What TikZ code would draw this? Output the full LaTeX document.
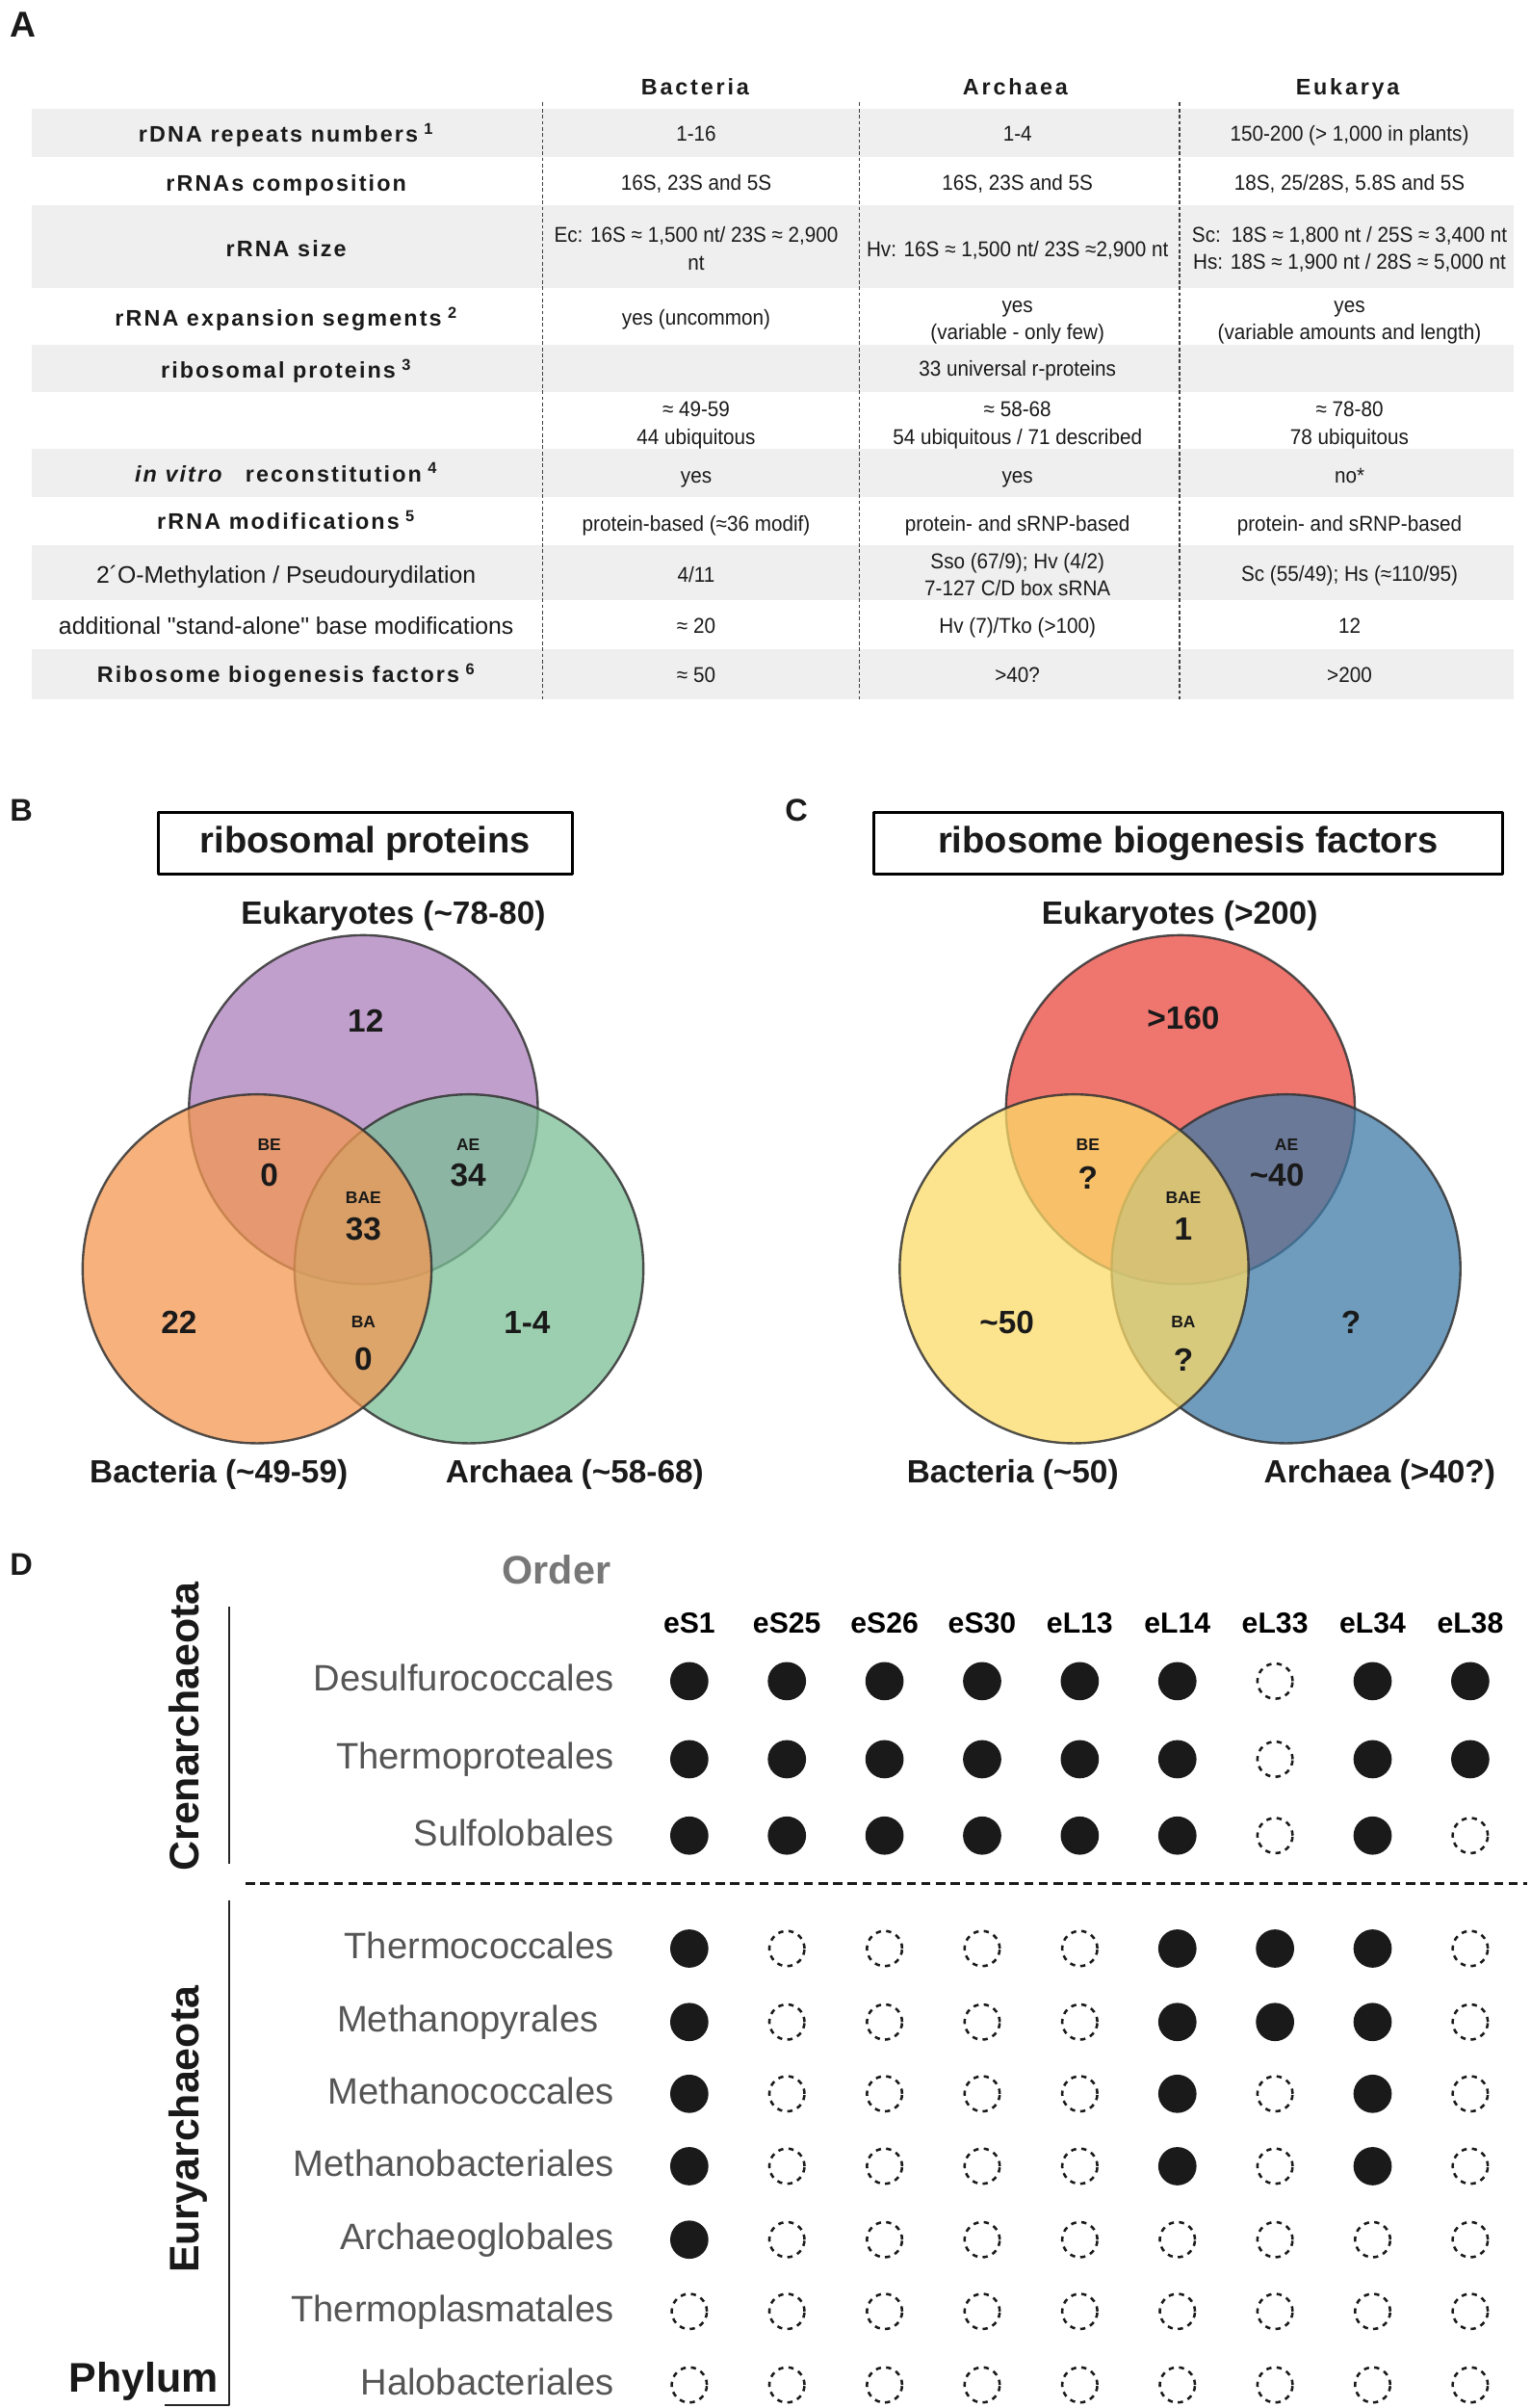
\documentclass[tikz,border=0pt]{standalone}
\usepackage{fontspec}
\setmainfont{Liberation Sans}
\newfontfamily\headfont[LetterSpace=12]{Liberation Sans}
\newfontfamily\labfont[LetterSpace=9]{Liberation Sans}
\newfontfamily\valfont[FakeStretch=0.93]{Liberation Sans}
\newcommand\supnum[1]{\hspace{4pt}\textsuperscript{#1}}
\usetikzlibrary{positioning}
\definecolor{rowgrey}{HTML}{EFEFEF}
\definecolor{ink}{HTML}{1A1A1A}
\definecolor{ordgrey}{HTML}{555555}
\definecolor{headgrey}{HTML}{777777}
\definecolor{rpE}{RGB}{171,128,187}
\definecolor{rpA}{RGB}{123,191,150}
\definecolor{rpB}{RGB}{243,152,82}
\definecolor{bfE}{RGB}{234,71,64}
\definecolor{bfA}{RGB}{63,123,167}
\definecolor{bfB}{RGB}{251,218,104}
\begin{document}
\begin{tikzpicture}[x=1pt,y=-1pt,line join=round,text=ink,
	panel/.style={font=\bfseries\fontsize{20.5}{24}\selectfont,anchor=base west,inner sep=0pt},
	colhead/.style={font=\headfont\bfseries\fontsize{14.7}{17}\selectfont,anchor=base,yshift=-5.3pt,inner sep=0pt},
	rowlab/.style={font=\labfont\bfseries\fontsize{14.7}{17}\selectfont,anchor=base,yshift=-5.3pt,inner sep=0pt},
	rowtxt/.style={font=\fontsize{15.6}{18}\selectfont,anchor=base,yshift=-5.6pt,inner sep=0pt},
	val/.style={font=\valfont\fontsize{14}{16}\selectfont,anchor=base,yshift=-5pt,inner sep=0pt},
	vsep/.style={black!75,line width=1pt,dash pattern=on 2.4pt off 1.6pt},
	venn/.style={draw=black!80,line width=1.5pt,fill opacity=.75,draw opacity=.85},
	titlebox/.style={draw=black,line width=1.8pt,font=\bfseries\fontsize{24}{28}\selectfont,minimum height=40pt,inner sep=0pt},
	vspec/.style={font=\bfseries\fontsize{21}{25}\selectfont,anchor=base,yshift=-7.6pt,inner sep=0pt},
	vnum/.style={font=\bfseries\fontsize{21}{25}\selectfont,anchor=base,yshift=-7.6pt,inner sep=0pt},
	vtag/.style={font=\bfseries\fontsize{11}{13}\selectfont,anchor=base,yshift=-4pt,inner sep=0pt},
	ordname/.style={font=\fontsize{24}{28}\selectfont,text=ordgrey,anchor=base east,yshift=-6.6pt,inner sep=0pt},
	colname/.style={font=\bfseries\fontsize{19}{22}\selectfont,text=black,anchor=base,yshift=-7pt,inner sep=0pt},
	phylum/.style={font=\bfseries\fontsize{27}{31}\selectfont,anchor=base,inner sep=0pt},
	dotyes/.style={circle,fill=ink,minimum size=25pt,inner sep=0pt},
	dotno/.style={circle,draw=ink,line width=1.6pt,dash pattern=on 3.4pt off 3.4pt,minimum size=23pt,inner sep=0pt},
	bracket/.style={black!85,line width=1.5pt},
	sepline/.style={ink,line width=2.2pt,dash pattern=on 6pt off 3.6pt}]
	\fill[white] (0,0) rectangle (1000,1573.3);
	\useasboundingbox (0,0) rectangle (1000,1573.3);
	% A
	\node[panel,font=\bfseries\fontsize{23.5}{27}\selectfont] (pA) at (6.4,24.1) {A};
	\foreach \ya/\yb in {71.3/102.4,134.2/188.4,225.5/256.3,293.2/324.5,356.2/392.2,424.1/456.8}
	\fill[rowgrey] (20.9,\ya) rectangle (989,\yb);
	\foreach \x in {354.7,561.7,770.8}
	\draw[vsep] (\x,67) -- (\x,456.8);
	\foreach \x/\dom in {454.3/Bacteria,663.6/Archaea,880.8/Eukarya}
	\node[colhead] (hd\dom) at (\x,56.6) {\dom};
	\foreach \y/\txt [count=\i] in {87.5/{rDNA repeats numbers\supnum{1}},119.6/{rRNAs composition},162.6/{rRNA size},207.7/{rRNA expansion segments\supnum{2}},242/{ribosomal proteins\supnum{3}},309.4/{\textit{in vitro}\hspace{14pt}reconstitution\supnum{4}},340.8/{rRNA modifications\supnum{5}},440.5/{Ribosome biogenesis factors\supnum{6}}}
	\node[rowlab] (lab\i) at (187,\y) {\txt};
	\node[rowtxt] (labMeth) at (187,375.4) {2´O-Methylation / Pseudourydilation};
	\node[rowtxt] (labBase) at (187,409) {additional \textquotedbl stand-alone\textquotedbl{} base modifications};
	\foreach \x/\y/\txt [count=\i] in {
		455/87.5/{1-16}, 665/87.5/{1-4}, 882/87.5/{150-200 (> 1,000 in plants)},
		455/119/{16S, 23S and 5S}, 665/119/{16S, 23S and 5S}, 882/119/{18S, 25/28S, 5.8S and 5S},
		455/153.5/{Ec: 16S ≈ 1,500 nt/ 23S ≈ 2,900}, 455/171.5/{nt},
		665/162.5/{Hv: 16S ≈ 1,500 nt/ 23S ≈2,900 nt},
		882/153/{Sc:\enspace 18S ≈ 1,800 nt / 25S ≈ 3,400 nt}, 882/171/{Hs: 18S ≈ 1,900 nt / 28S ≈ 5,000 nt},
		455/207.5/{yes (uncommon)}, 665/199/{yes}, 665/217/{(variable - only few)},
		882/199/{yes}, 882/217/{(variable amounts and length)},
		665/241/{33 universal r-proteins},
		455/267.4/{≈ 49-59}, 455/285.2/{44 ubiquitous},
		665/267.4/{≈ 58-68}, 665/285.2/{54 ubiquitous / 71 described},
		882/267.4/{≈ 78-80}, 882/285.2/{78 ubiquitous},
		455/310.4/{yes}, 665/310.4/{yes}, 882/310.4/{no*},
		455/342/{protein-based (≈36 modif)}, 665/342/{protein- and sRNP-based}, 882/342/{protein- and sRNP-based},
		455/375.4/{4/11}, 665/366.6/{Sso (67/9); Hv (4/2)}, 665/384.3/{7-127 C/D box sRNA}, 882/375/{Sc (55/49); Hs (≈110/95)},
		455/409/{≈ 20}, 665/409/{Hv (7)/Tko (>100)}, 882/409/{12},
		455/441/{≈ 50}, 665/441/{>40?}, 882/441/{>200}}
	\node[val] (val\i) at (\x,\y) {\txt};
	% B and C
	\node[panel] (pB) at (6.4,536.4) {B};
	\node[panel] (pC) at (513,536.4) {C};
	\node[titlebox,minimum width=270.5pt] (rpTitle) at (238.75,551) {ribosomal proteins};
	\node[titlebox,minimum width=410.8pt] (bfTitle) at (776.4,551) {ribosome biogenesis factors};
	\foreach \dx/\cE/\cA/\cB in {0/rpE/rpA/rpB,534/bfE/bfA/bfB}{
		\draw[venn,fill=\cE] ({237.5+\dx},725) circle[radius=114pt];
		\draw[venn,fill=\cA] ({306.5+\dx},829) circle[radius=114pt];
		\draw[venn,fill=\cB] ({168+\dx},829) circle[radius=114pt];
	}
	\foreach \x/\y/\txt/\sty [count=\i] in {
		257/596.2/{Eukaryotes (\textasciitilde 78-80)}/vspec, 143/961/{Bacteria (\textasciitilde 49-59)}/vspec, 375.6/961/{Archaea (\textasciitilde 58-68)}/vspec,
		239/666.7/12/vnum, 176/747.5/BE/vtag, 176/767.4/0/vnum, 306/747.5/AE/vtag, 306/767.4/34/vnum,
		237.5/782.6/BAE/vtag, 237.5/802.5/33/vnum, 117/863.5/22/vnum, 237.5/863.5/BA/vtag, 237.5/887.9/0/vnum, 344.5/863.5/1-4/vnum}
	\node[\sty] (rp\i) at (\x,\y) {\txt};
	\foreach \x/\y/\txt/\sty [count=\i] in {
		771/596.2/{Eukaryotes (>200)}/vspec, 661.9/961/{Bacteria (\textasciitilde 50)}/vspec, 901.7/961/{Archaea (>40?)}/vspec,
		773.4/665/{>160}/vnum, 711/747.5/BE/vtag, 711/769/?/vnum, 840.8/747.5/AE/vtag, 834.5/767.4/{\textasciitilde 40}/vnum,
		773.4/782.6/BAE/vtag, 773.4/802.5/1/vnum, 658/863.5/{\textasciitilde 50}/vnum, 773.4/863.5/BA/vtag, 773.4/888/?/vnum, 883/863.5/?/vnum}
	\node[\sty] (bf\i) at (\x,\y) {\txt};
	% D
	\node[panel] (pD) at (6.4,1029.4) {D};
	\node[font=\bfseries\fontsize{26}{30}\selectfont,text=headgrey,anchor=base,yshift=-9.4pt,inner sep=0pt] (order) at (363.7,1025.7) {Order};
	\node[phylum,rotate=90,text=black!90] (creName) at (130,1128) {Crenarchaeota};
	\node[phylum,rotate=90,text=black!90] (euryName) at (130,1391.3) {Euryarchaeota};
	\node[phylum,anchor=base east,text=black!90] (phylum) at (143,1563) {Phylum};
	\coordinate (creTop) at (149.6,1049.7);
	\coordinate (creBot) at (149.6,1217.7);
	\coordinate (euryTop) at (149.6,1241.7);
	\coordinate (euryBot) at (149.6,1571.5);
	\coordinate (phyEnd) at (107.5,1571.5);
	\draw[bracket] (creTop) -- (creBot);
	\draw[bracket] (euryTop) -- (euryBot) -- (phyEnd);
	\coordinate (sepL) at (160.5,1230.6);
	\coordinate (sepR) at (998,1230.6);
	\draw[sepline] (sepL) -- (sepR);
	\foreach \h [count=\c] in {eS1,eS25,eS26,eS30,eL13,eL14,eL33,eL34,eL38}
	\node[colname] (h\h) at ({450.5+63.8*(\c-1)},1060) {\h};
	\foreach \ord/\yy/\dx/\pat [count=\r] in {
		Desulfurococcales/1098.4/0/{1,1,1,1,1,1,0,1,1},
		Thermoproteales/1149.4/0/{1,1,1,1,1,1,0,1,1},
		Sulfolobales/1199.3/0/{1,1,1,1,1,1,0,1,0},
		Thermococcales/1273.1/0/{1,0,0,0,0,1,1,1,0},
		Methanopyrales/1321.1/-10/{1,0,0,0,0,1,1,1,0},
		Methanococcales/1368/0/{1,0,0,0,0,1,0,1,0},
		Methanobacteriales/1415.3/0/{1,0,0,0,0,1,0,1,0},
		Archaeoglobales/1463.3/0/{1,0,0,0,0,0,0,0,0},
		Thermoplasmatales/1510.2/0/{0,0,0,0,0,0,0,0,0},
		Halobacteriales/1558.2/0/{0,0,0,0,0,0,0,0,0}}{
		\node[ordname] (ord\r) at ({401.3+\dx},\yy) {\ord};
		\foreach \d [count=\c] in \pat {
			\ifnum\d=1 \node[dotyes] (dot\r-\c) at ({450.5+63.8*(\c-1)},\yy) {};
			\else \node[dotno] (dot\r-\c) at ({450.5+63.8*(\c-1)},\yy) {};
			\fi
		}
	}
\end{tikzpicture}
\end{document}
